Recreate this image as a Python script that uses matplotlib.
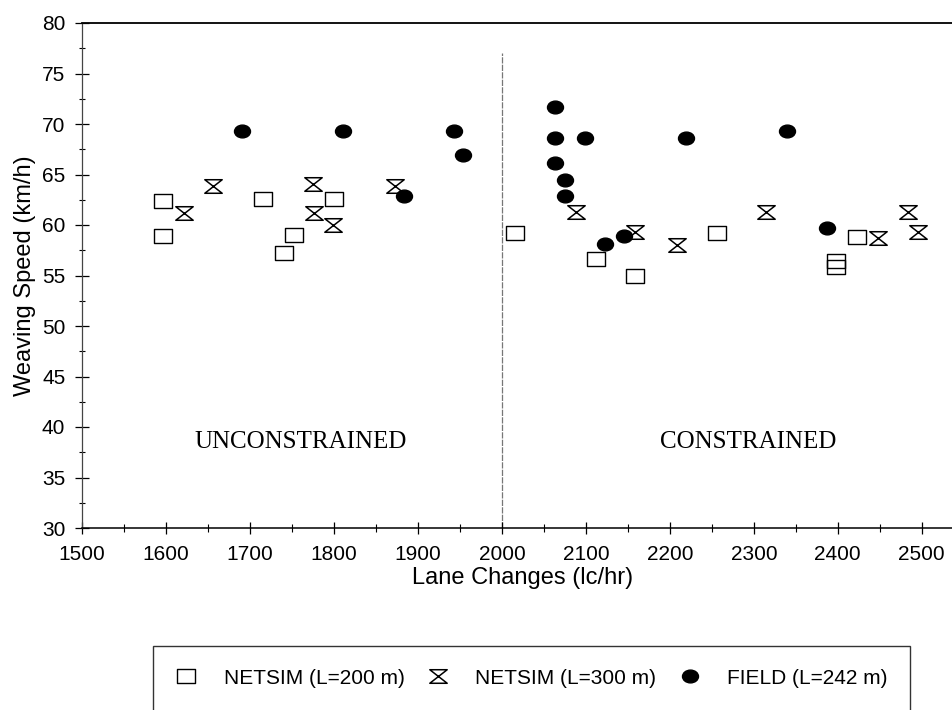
import matplotlib.pyplot as plt
from matplotlib.path import Path
from matplotlib.markers import MarkerStyle
from matplotlib.ticker import MultipleLocator
import numpy as np

# NETSIM runs, L = 200 m
sim200_lc = [1597, 1597, 1715, 1740, 1752, 1800, 2016, 2112, 2159, 2256, 2398, 2398, 2423]
sim200_speed = [62.4, 58.9, 62.6, 57.2, 59.0, 62.6, 59.2, 56.6, 55.0, 59.2, 56.4, 55.8, 58.8]

# NETSIM runs, L = 300 m
sim300_lc = [1621, 1656, 1775, 1776, 1799, 1873, 2088, 2159, 2208, 2315, 2448, 2484, 2496]
sim300_speed = [61.2, 63.9, 64.1, 61.2, 60.0, 63.9, 61.3, 59.3, 58.0, 61.3, 58.7, 61.3, 59.3]

# field data, L = 242 m
field_lc = [1691, 1811, 1884, 1943, 1954, 2063, 2063, 2099, 2063, 2075, 2075, 2123, 2146, 2219, 2339, 2387]
field_speed = [69.3, 69.3, 62.9, 69.3, 66.9, 71.7, 68.6, 68.6, 66.1, 64.5, 62.9, 58.1, 58.9, 68.6, 69.3, 59.7]

boundary_lc = 2000
series_labels = ["NETSIM (L=200 m)", "NETSIM (L=300 m)", "FIELD (L=242 m)"]
region_labels = ["UNCONSTRAINED", "CONSTRAINED"]

plt.rcParams['font.family'] = ['Liberation Sans', 'DejaVu Sans']

# markers: wide box, hourglass, flattened dot
box = MarkerStyle(Path([(-1, -0.78), (1, -0.78), (1, 0.78), (-1, 0.78), (-1, -0.78)],
                       [Path.MOVETO, Path.LINETO, Path.LINETO, Path.LINETO, Path.CLOSEPOLY]))
hourglass = MarkerStyle(Path([(-1, 0.78), (1, 0.78), (-1, -0.78), (1, -0.78), (-1, 0.78)],
                             [Path.MOVETO, Path.LINETO, Path.LINETO, Path.LINETO, Path.CLOSEPOLY]))
circ = Path.unit_circle()
dot = MarkerStyle(Path(circ.vertices * np.array([1.0, 0.8]), circ.codes))

fig = plt.figure(figsize=(9.52, 7.10), dpi=100)
ax = fig.add_axes([82 / 952, 182 / 710, 870 / 952, 505 / 710])

h1, = ax.plot(sim200_lc, sim200_speed, linestyle="none", marker=box, markersize=13,
              markerfacecolor="none", markeredgecolor="black", markeredgewidth=1.0)
h2, = ax.plot(sim300_lc, sim300_speed, linestyle="none", marker=hourglass, markersize=12.5,
              markerfacecolor="none", markeredgecolor="black", markeredgewidth=1.1)
h3, = ax.plot(field_lc, field_speed, linestyle="none", marker=dot, markersize=11.5,
              markerfacecolor="black", markeredgecolor="black")

# divider between the two regimes
ax.plot([boundary_lc, boundary_lc], [30, 77], color="#777777", linewidth=0.9,
        linestyle=(0, (5, 1)), zorder=1)

ax.text(1760, 38.5, region_labels[0], family="Liberation Serif", fontsize=18,
        ha="center", va="center")
ax.text(2293, 38.5, region_labels[1], family="Liberation Serif", fontsize=18,
        ha="center", va="center")

ax.set_xlim(1500, 2536)
ax.set_ylim(30, 80)
ax.xaxis.set_major_locator(MultipleLocator(100))
ax.xaxis.set_minor_locator(MultipleLocator(50))
ax.yaxis.set_major_locator(MultipleLocator(5))
ax.yaxis.set_minor_locator(MultipleLocator(2.5))
ax.tick_params(axis="both", which="major", direction="inout", labelsize=15, width=0.9)
ax.tick_params(axis="x", which="major", length=9, pad=8)
ax.tick_params(axis="y", which="major", length=10, pad=7)
ax.tick_params(axis="x", which="minor", direction="inout", length=6, width=0.8)
ax.tick_params(axis="y", which="minor", direction="inout", length=5, width=0.8)

ax.spines["right"].set_visible(False)
ax.spines["top"].set_linewidth(1.3)
ax.spines["bottom"].set_linewidth(1.1)
ax.spines["left"].set_linewidth(0.9)
ax.spines["left"].set_color("#444444")

ax.set_xlabel("Lane Changes (lc/hr)", fontsize=17, labelpad=2)
ax.xaxis.label.set_x(0.506)
ax.set_ylabel("Weaving Speed (km/h)", fontsize=17, labelpad=4)

leg = fig.legend([h1, h2, h3], series_labels, loc="upper left",
                 bbox_to_anchor=(152.7 / 952, 1 - 645.7 / 710), ncol=3, numpoints=1,
                 fontsize=15, frameon=True, fancybox=False, edgecolor="black",
                 borderpad=1.1, borderaxespad=0, handlelength=1.0, handletextpad=1.3,
                 columnspacing=1.1)
leg.get_frame().set_linewidth(1.0)

fig.savefig("out.png", dpi=100)
